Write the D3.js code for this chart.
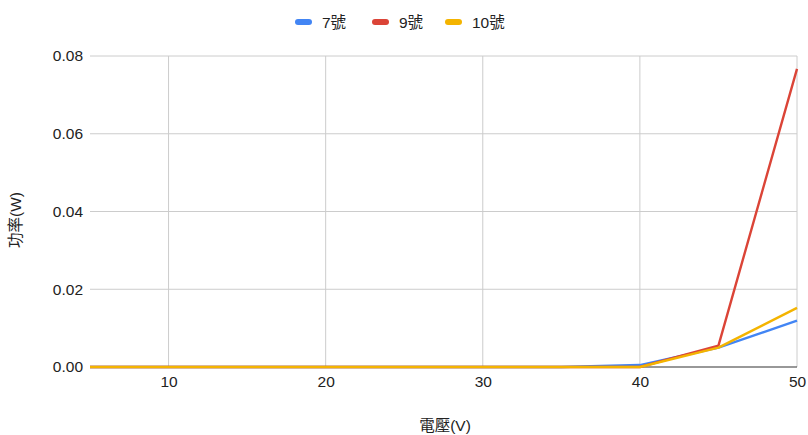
<!DOCTYPE html>
<html>
<head>
<meta charset="utf-8">
<script src="https://cdn.jsdelivr.net/npm/d3@7"></script>
<style>
  html, body { margin: 0; padding: 0; background: #fff; }
  svg text { font-family: "Liberation Sans", Arial, "Noto Sans CJK TC", sans-serif; fill: #222; }
</style>
</head>
<body>
<svg id="chart" width="808" height="435"></svg>
<script>
// Voltage (V) on the x axis
const voltages = [5, 10, 15, 20, 25, 30, 35, 40, 45, 50];
// Power (W) per battery size
const power7 = [0, 0, 0, 0, 0, 0, 0, 0.0005, 0.0050, 0.0119];
const power9 = [0, 0, 0, 0, 0, 0, 0, 0, 0.0055, 0.0767];
const power10 = [0, 0, 0, 0, 0, 0, 0, 0, 0.0050, 0.0152];
const seriesNames = ["7號", "9號", "10號"];
const seriesColors = ["#4285f4", "#db4437", "#f4b400"];
const xTicks = [10, 20, 30, 40, 50];
const yTicks = [0, 0.02, 0.04, 0.06, 0.08];

const series = [power7, power9, power10].map((vals, i) => ({
  name: seriesNames[i],
  color: seriesColors[i],
  points: voltages.map((v, j) => ({ x: v, y: vals[j] }))
}));

const svg = d3.select("#chart");
const m = { left: 90, right: 11, top: 56, bottom: 68 };
const W = 808, H = 435;
const FS = 15.5;

const x = d3.scaleLinear().domain([5, 50]).range([m.left, W - m.right]);
const y = d3.scaleLinear().domain([0, 0.08]).range([H - m.bottom, m.top]);

// Horizontal gridlines
svg.append("g")
  .selectAll("line")
  .data(yTicks.filter(d => d > 0))
  .join("line")
  .attr("x1", m.left).attr("x2", W - m.right)
  .attr("y1", d => y(d)).attr("y2", d => y(d))
  .attr("stroke", "#cccccc").attr("stroke-width", 1);

// Vertical gridlines
svg.append("g")
  .selectAll("line")
  .data(xTicks)
  .join("line")
  .attr("x1", d => x(d)).attr("x2", d => x(d))
  .attr("y1", m.top).attr("y2", H - m.bottom)
  .attr("stroke", "#cccccc").attr("stroke-width", 1);

// Y axis labels
const yAxis = d3.axisLeft(y).tickValues(yTicks).tickFormat(d3.format(".2f")).tickSize(0).tickPadding(7);
const gy = svg.append("g").attr("transform", `translate(${m.left},0)`).call(yAxis);
gy.select(".domain").remove();
gy.selectAll("text").attr("font-size", FS).style("fill", "#222");

// X axis labels
const xAxis = d3.axisBottom(x).tickValues(xTicks).tickSize(0).tickPadding(9);
const gx = svg.append("g").attr("transform", `translate(0,${H - m.bottom})`).call(xAxis);
gx.select(".domain").remove();
gx.selectAll("text").attr("font-size", FS).style("fill", "#222");

// Baseline
svg.append("line")
  .attr("x1", m.left).attr("x2", W - m.right)
  .attr("y1", y(0)).attr("y2", y(0))
  .attr("stroke", "#333").attr("stroke-width", 1.2);

// Series lines
const line = d3.line().x(d => x(d.x)).y(d => y(d.y));
svg.append("g")
  .selectAll("path")
  .data(series)
  .join("path")
  .attr("d", d => line(d.points))
  .attr("fill", "none")
  .attr("stroke", d => d.color)
  .attr("stroke-width", 2.4)
  .attr("stroke-linejoin", "round");

// Axis titles
svg.append("text")
  .attr("x", 445).attr("y", 431)
  .attr("text-anchor", "middle")
  .attr("font-size", FS)
  .text("電壓(V)");

svg.append("text")
  .attr("transform", `translate(21,220) rotate(-90)`)
  .attr("text-anchor", "middle")
  .attr("font-size", FS)
  .text("功率(W)");

// Legend
const legendX = [295, 372, 445];
const legend = svg.append("g")
  .selectAll("g")
  .data(series)
  .join("g")
  .attr("transform", (d, i) => `translate(${legendX[i]},22)`);
legend.append("rect")
  .attr("x", 0).attr("y", -3).attr("width", 17).attr("height", 6).attr("rx", 3)
  .attr("fill", d => d.color);
legend.append("text")
  .attr("x", 27).attr("y", 5.5)
  .attr("font-size", FS)
  .text(d => d.name);
</script>
</body>
</html>
